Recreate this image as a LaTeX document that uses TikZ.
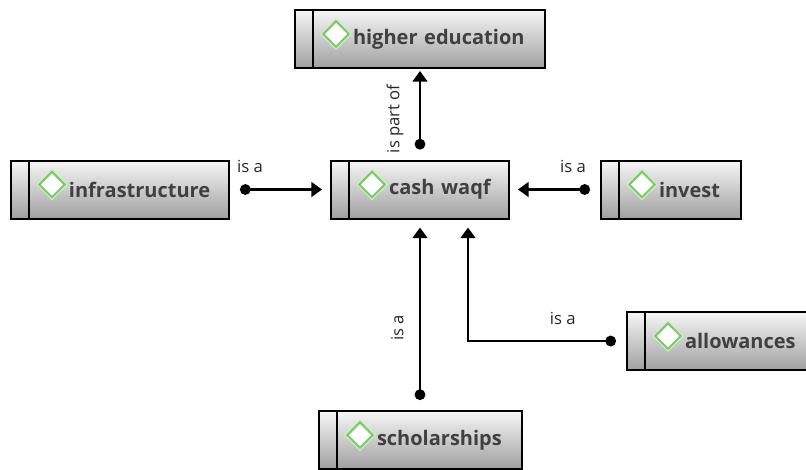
\documentclass[tikz,border=0pt]{standalone}
\usepackage{fontspec}
\setmainfont{Open Sans}
\usetikzlibrary{arrows.meta}
\definecolor{boxtop}{RGB}{246,246,246}
\definecolor{boxbot}{RGB}{160,160,160}
\definecolor{nametext}{RGB}{64,64,64}
\definecolor{gemgreen}{RGB}{125,200,105}

\tikzset{
  entity/.style={rectangle, draw=black, line width=1.5pt, top color=boxtop, bottom color=boxbot,
    text=nametext, font=\bfseries\fontsize{15}{17}\selectfont, anchor=west,
    minimum height=43.5pt, text width=#1, inner xsep=0pt, align=left,
    execute at begin node=\hspace*{43.5pt},
    path picture={
      \draw[line width=1.5pt] ([xshift=13.5pt]path picture bounding box.north west)
        -- ([xshift=13.5pt]path picture bounding box.south west);
      \draw[gemgreen!35, line width=3.5pt]
        ([xshift=30.75pt,yshift=3.75pt]path picture bounding box.west)
        +(9.5pt,0) -- +(0,9.5pt) -- +(-9.5pt,0) -- +(0,-9.5pt) -- cycle;
      \filldraw[draw=gemgreen, fill=white, line width=1.5pt]
        ([xshift=30.75pt,yshift=3.75pt]path picture bounding box.west)
        +(9.5pt,0) -- +(0,9.5pt) -- +(-9.5pt,0) -- +(0,-9.5pt) -- cycle;
    }},
  rel/.style={line width=2.2pt, {Circle[length=8pt]}-{Triangle[width=11pt,length=8pt]},
    shorten <=7.5pt, shorten >=6pt},
  rlabel/.style={font=\fontsize{12.5}{14}\selectfont, text=black!85}
}

\begin{document}
\begin{tikzpicture}[x=0.75pt,y=-0.75pt]
\useasboundingbox (0,0) rectangle (806,469);

% concepts
\node[entity=187.5pt] (higher) at (294,39) {higher education};
\node[entity=163.5pt] (infra) at (10,189.5) {infrastructure};
\node[entity=133.5pt] (cash) at (330,189.5) {cash waqf};
\node[entity=105pt] (invest) at (600,189.5) {invest};
\node[entity=150pt] (allow) at (626,341) {allowances};
\node[entity=152.25pt] (schol) at (318,440) {scholarships};

% relations
\draw[rel] (infra.east) -- (cash.west) node[rlabel, pos=0.2, above=8pt] {is a};
\draw[rel] (invest.west) -- (cash.east) node[rlabel, pos=0.3, above=8pt] {is a};
\draw[rel, shorten >=1.5pt] (cash.north) -- (cash.north |- higher.south)
  node[rlabel, pos=0.45, sloped, above=8pt] {is part of};
\draw[rel] (cash.south |- schol.north) -- (cash.south)
  node[rlabel, pos=0.43, sloped, above=8pt] {is a};
\draw[rel] (allow.west) -| ([xshift=36pt]cash.south) node[rlabel, pos=0.2, above=8pt] {is a};
\end{tikzpicture}
\end{document}
